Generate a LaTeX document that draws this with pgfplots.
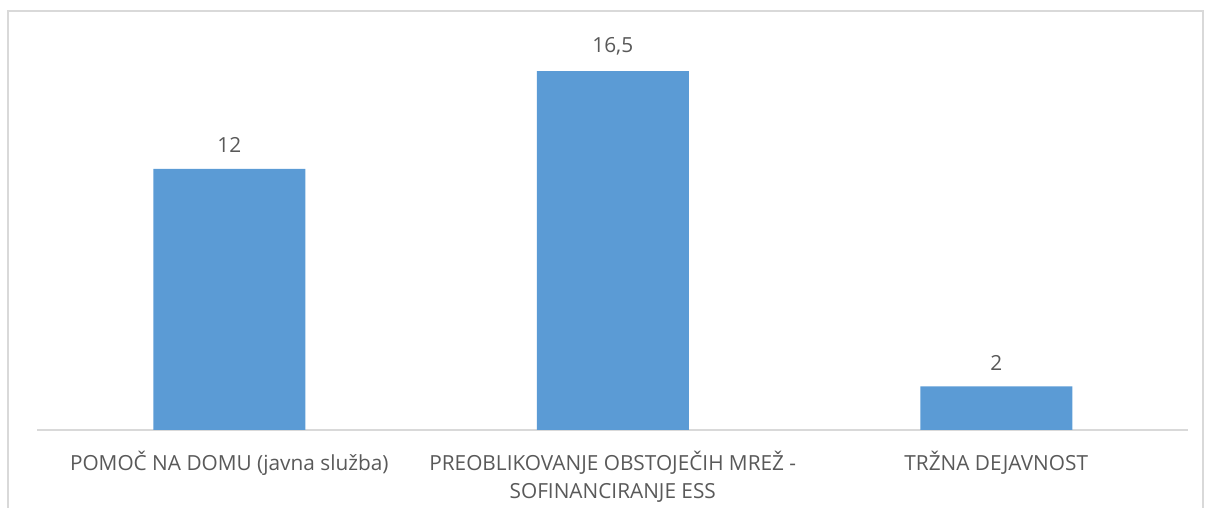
\documentclass[border=0pt]{standalone}
\usepackage{pgfplots}
\pgfplotsset{compat=1.18}
\usepackage{fontspec}
\setmainfont{Open Sans}
\definecolor{barblue}{HTML}{5B9BD5}
\definecolor{txtgrey}{HTML}{595959}
\definecolor{linegrey}{HTML}{D9D9D9}
\begin{document}
\begin{tikzpicture}
\path[use as bounding box] (0,0) rectangle (603pt,254pt);
\draw[linegrey, line width=1pt] (4pt,-5pt) -- (4pt,248.5pt) -- (601.5pt,248.5pt) -- (601.5pt,-5pt);
\begin{axis}[
  at={(18.75pt,39pt)}, anchor=south west,
  scale only axis, width=575.25pt, height=195.75pt,
  xmin=-0.5, xmax=2.5, ymin=0, ymax=18,
  axis x line*=bottom, axis y line=none,
  x axis line style={linegrey, line width=1pt, -},
  xtick=data, xtick style={draw=none},
  xticklabels={{POMOČ NA DOMU (javna služba)},{PREOBLIKOVANJE OBSTOJEČIH MREŽ -\\SOFINANCIRANJE ESS},{TRŽNA DEJAVNOST}},
  xticklabel style={font=\fontsize{10.4}{14}\selectfont, text=txtgrey, align=center, yshift=-3pt},
  ybar, bar width=76pt,
  nodes near coords,
  nodes near coords style={font=\fontsize{10.4}{14}\selectfont, text=txtgrey, yshift=4.5pt},
  point meta=explicit symbolic,
]
\addplot[fill=barblue, draw=none] coordinates {(0,12)[12] (1,16.5)[{16,5}] (2,2)[2]};
\end{axis}
\end{tikzpicture}
\end{document}
